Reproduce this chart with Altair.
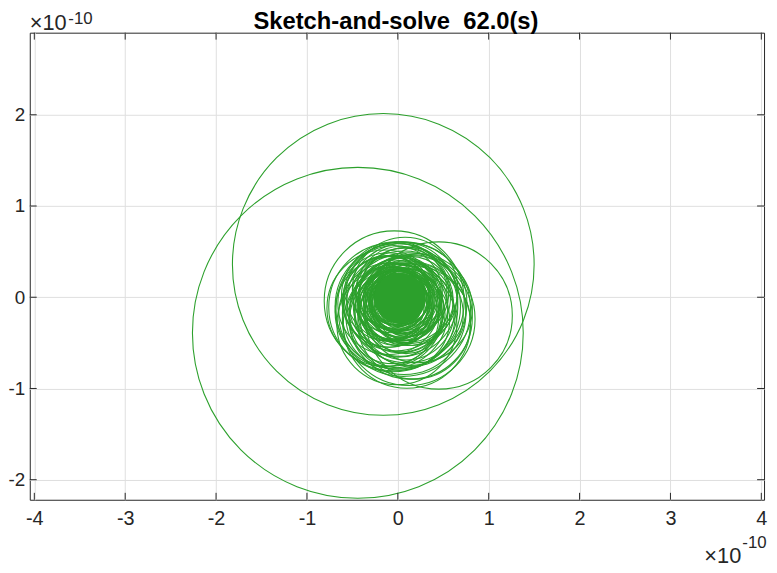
import altair as alt
import pandas as pd

# ---- data (units of 1e-10) ----
# large loops
big_cx = [-0.16, -0.44, 0.45]
big_cy = [0.36, -0.39, -0.20]
big_r = [1.66, 1.82, 0.81]

# middle rings around the centre
mid_cx = [-0.04, 0.06, 0.12, 0.00, 0.10, -0.07, 0.14, -0.02, 0.05, -0.10, 0.11, 0.03, -0.06,
          0.07, -0.12, 0.05, 0.16, -0.03, 0.09, -0.08, 0.02, 0.18, -0.14, 0.08, 0.22, -0.01,
          0.03, -0.05, 0.08, 0.01, -0.07, 0.10, -0.02, 0.06, -0.09, 0.13, 0.00, 0.04, -0.11,
          0.09, -0.04, 0.15, -0.08, 0.03, 0.07, -0.05, 0.10, 0.14]
mid_cy = [-0.04, -0.13, -0.24, -0.10, -0.06, -0.16, -0.14, 0.01, -0.20, -0.07, 0.01, -0.09, -0.22,
          0.05, -0.01, -0.14, -0.08, -0.03, -0.19, 0.03, -0.25, -0.28, -0.12, 0.08, -0.12, -0.30,
          -0.11, -0.08, -0.03, -0.16, 0.02, -0.12, -0.12, 0.02, -0.11, -0.03, -0.18, 0.06, -0.05,
          -0.16, 0.04, -0.19, -0.19, -0.02, -0.17, -0.11, -0.30, -0.22]
mid_r = [0.77, 0.74, 0.73, 0.69, 0.66, 0.62, 0.61, 0.60, 0.58, 0.56, 0.54, 0.52, 0.51,
         0.49, 0.47, 0.46, 0.45, 0.44, 0.43, 0.42, 0.55, 0.62, 0.64, 0.58, 0.60, 0.66,
         0.40, 0.39, 0.38, 0.37, 0.36, 0.35, 0.41, 0.42, 0.44, 0.48, 0.48, 0.50, 0.50,
         0.53, 0.53, 0.57, 0.57, 0.63, 0.68, 0.71, 0.70, 0.68]

# dense core rings
core_cx = [0.00, 0.04, -0.03, 0.02, 0.05, -0.04, 0.01, 0.06, -0.02, 0.03, -0.05, 0.04, 0.00, 0.02,
           -0.03, 0.05, -0.01, 0.03, -0.04, 0.01, 0.08, -0.06, 0.07, -0.05, 0.03, -0.02, 0.05,
           0.00, -0.04, 0.02, 0.06, -0.01, 0.09, -0.07, 0.04, 0.11]
core_cy = [0.00, -0.04, -0.02, 0.03, -0.06, 0.02, -0.05, 0.01, -0.06, 0.02, -0.03, -0.02, 0.04, -0.07,
           0.00, 0.03, -0.03, -0.04, -0.05, 0.02, -0.08, -0.09, 0.04, 0.05, -0.03, 0.01, -0.01,
           -0.05, -0.02, 0.02, -0.04, -0.02, -0.02, -0.10, -0.12, -0.06]
core_r = [0.38, 0.36, 0.35, 0.34, 0.33, 0.32, 0.31, 0.30, 0.29, 0.28, 0.27, 0.26, 0.25, 0.24,
          0.23, 0.22, 0.21, 0.20, 0.19, 0.18, 0.40, 0.39, 0.37, 0.41, 0.335, 0.315, 0.295,
          0.275, 0.255, 0.235, 0.215, 0.195, 0.345, 0.36, 0.33, 0.37]

# solid centre where the loops overlap completely
fill_cx = [0.02]
fill_cy = [-0.01]
fill_r = [0.28]

x_ticks = [-4, -3, -2, -1, 0, 1, 2, 3, 4]
y_ticks = [-2, -1, 0, 1, 2]
x_domain = [-4.05, 4.03]
y_domain = [-2.22, 2.90]

title_text = "Sketch-and-solve \u00a062.0(s)"
exp_base = "\u00d710"
exp_sup = "-10"

# ---- chart ----
W, H = 742, 472
k = W / (x_domain[1] - x_domain[0])  # pixels per data unit
GREEN = "#2ca02c"
DARK = "#262626"
FONT = "Liberation Sans"

df = pd.DataFrame({
    "cx": big_cx + mid_cx + core_cx,
    "cy": big_cy + mid_cy + core_cy,
    "r": big_r + mid_r + core_r,
})
df_fill = pd.DataFrame({"cx": fill_cx, "cy": fill_cy, "r": fill_r})

xs = alt.Scale(domain=x_domain, nice=False, zero=False)
ys = alt.Scale(domain=y_domain, nice=False, zero=False)
ss = alt.Scale(type="pow", exponent=2, domain=[0, 1], range=[0, 4 * k * k], nice=False)

x_axis = alt.Axis(values=x_ticks, grid=True, ticks=False, domain=False, title=None,
                  labelExpr="'' + datum.value", labelPadding=9, labelFlush=False,
                  labelOverlap=False, labelFont=FONT, labelFontSize=20, labelColor=DARK,
                  gridColor="#dfdfdf", gridWidth=1)
y_axis = alt.Axis(values=y_ticks, grid=True, ticks=False, domain=False, title=None,
                  labelExpr="'' + datum.value", labelPadding=5, labelFlush=False,
                  labelOverlap=False, labelFont=FONT, labelFontSize=19, labelColor=DARK,
                  gridColor="#dfdfdf", gridWidth=1)

circles = alt.Chart(df).mark_point(
    shape="circle", filled=False, color=GREEN, strokeWidth=1.1, opacity=1
).encode(
    x=alt.X("cx:Q", scale=xs, axis=x_axis),
    y=alt.Y("cy:Q", scale=ys, axis=y_axis),
    size=alt.Size("r:Q", scale=ss, legend=None),
)
core = alt.Chart(df_fill).mark_point(
    shape="circle", filled=True, color=GREEN, opacity=1, strokeWidth=0
).encode(
    x=alt.X("cx:Q", scale=xs, axis=x_axis),
    y=alt.Y("cy:Q", scale=ys, axis=y_axis),
    size=alt.Size("r:Q", scale=ss, legend=None),
)

xt = pd.DataFrame({"v": x_ticks})
yt = pd.DataFrame({"v": y_ticks})
TL = 7
tick_bottom = alt.Chart(xt).mark_rule(color=DARK, strokeWidth=1).encode(
    x=alt.X("v:Q", scale=xs, axis=x_axis), y=alt.value(H), y2=alt.value(H - TL))
tick_top = alt.Chart(xt).mark_rule(color=DARK, strokeWidth=1).encode(
    x=alt.X("v:Q", scale=xs, axis=x_axis), y=alt.value(0), y2=alt.value(TL))
tick_left = alt.Chart(yt).mark_rule(color=DARK, strokeWidth=1).encode(
    y=alt.Y("v:Q", scale=ys, axis=y_axis), x=alt.value(0), x2=alt.value(TL))
tick_right = alt.Chart(yt).mark_rule(color=DARK, strokeWidth=1).encode(
    y=alt.Y("v:Q", scale=ys, axis=y_axis), x=alt.value(W - TL), x2=alt.value(W))

def label(text, x, y, size, align="left", weight="normal", color=DARK):
    return alt.Chart(pd.DataFrame({"t": [text]})).mark_text(
        align=align, baseline="alphabetic", font=FONT, fontSize=size,
        fontWeight=weight, color=color
    ).encode(text="t:N", x=alt.value(x), y=alt.value(y))

title = label(title_text, 370, -4, 24, align="center", weight="bold", color="#000000")
tl_base = label(exp_base, 0, -3, 22)
tl_sup = label(exp_sup, 39, -9, 17)
br_base = label(exp_base, 719, 536, 22, align="right")
br_sup = label(exp_sup, 720, 521, 17)

chart = alt.layer(
    circles, core, tick_bottom, tick_top, tick_left, tick_right,
    title, tl_base, tl_sup, br_base, br_sup
).properties(
    width=W, height=H,
    padding={"left": 22, "top": 22, "right": 5, "bottom": 65},
    autosize=alt.AutoSizeParams(type="none"),
).configure_view(stroke=DARK, strokeWidth=1)

chart.save("out.html", embed_options={"renderer": "svg", "actions": False})
